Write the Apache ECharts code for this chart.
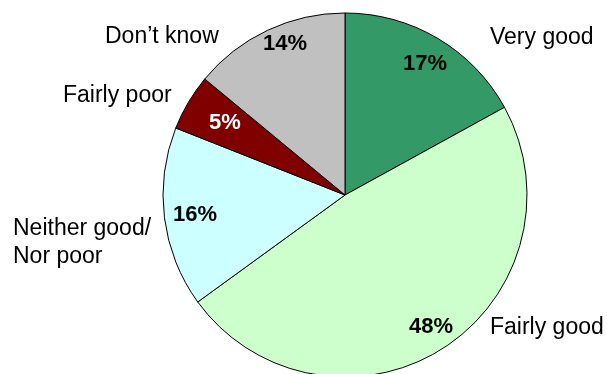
<!DOCTYPE html>
<html><head><meta charset="utf-8">
<script src="https://cdn.jsdelivr.net/npm/echarts@6/dist/echarts.min.js"></script>
<style>html,body{margin:0;padding:0;background:#fff}#c{width:607px;height:374px}</style>
</head><body><div id="c"></div>
<script>
// data
const categories = ['Very good', 'Fairly good', 'Neither good/\nNor poor', 'Fairly poor', 'Don\u2019t know'];
const values = [17, 48, 16, 5, 14];

// styles / label placement
const colors = ['#339966', '#CCFFCC', '#CCFFFF', '#800000', '#C0C0C0'];
const pctColors = ['#000000', '#000000', '#000000', '#FFFFFF', '#000000'];
const pctPos = [[425, 64], [431, 327], [195, 215], [225, 123], [285, 44]];
const namePos = [[490, 38], [490, 328], [13, 243], [63, 96], [105, 37]];

const FONT = '"Liberation Sans", Arial, sans-serif';
const CENTER = [345, 195];
const RADIUS = 182;

const chart = echarts.init(document.getElementById('c'), null, {renderer: 'canvas'});
chart.setOption({
  animation: false,
  backgroundColor: '#ffffff',
  series: [
    {
      type: 'pie',
      center: CENTER,
      radius: RADIUS,
      startAngle: 90,
      clockwise: true,
      avoidLabelOverlap: false,
      silent: true,
      emphasis: {disabled: true},
      itemStyle: {borderColor: '#000000', borderWidth: 1},
      data: values.map((v, i) => ({
        value: v, name: categories[i],
        itemStyle: {color: colors[i]},
        label: {color: pctColors[i]}
      })),
      label: {
        show: true, position: 'inside', formatter: '{c}%',
        fontFamily: FONT, fontWeight: 'bold', fontSize: 22
      },
      labelLine: {show: false},
      labelLayout: function (p) {
        const q = pctPos[p.dataIndex];
        return {x: q[0], y: q[1], align: 'center', verticalAlign: 'middle'};
      }
    },
    {
      type: 'pie',
      center: CENTER,
      radius: RADIUS,
      startAngle: 90,
      clockwise: true,
      avoidLabelOverlap: false,
      silent: true,
      emphasis: {disabled: true},
      itemStyle: {color: 'rgba(0,0,0,0)', borderWidth: 0},
      data: values.map((v, i) => ({value: v, name: categories[i]})),
      label: {
        show: true, position: 'outside', formatter: '{b}',
        fontFamily: FONT, fontSize: 23, color: '#000000', lineHeight: 28
      },
      labelLine: {show: false},
      labelLayout: function (p) {
        const q = namePos[p.dataIndex];
        return {x: q[0], y: q[1], align: 'left', verticalAlign: 'middle'};
      }
    }
  ]
});
</script>
</body></html>
